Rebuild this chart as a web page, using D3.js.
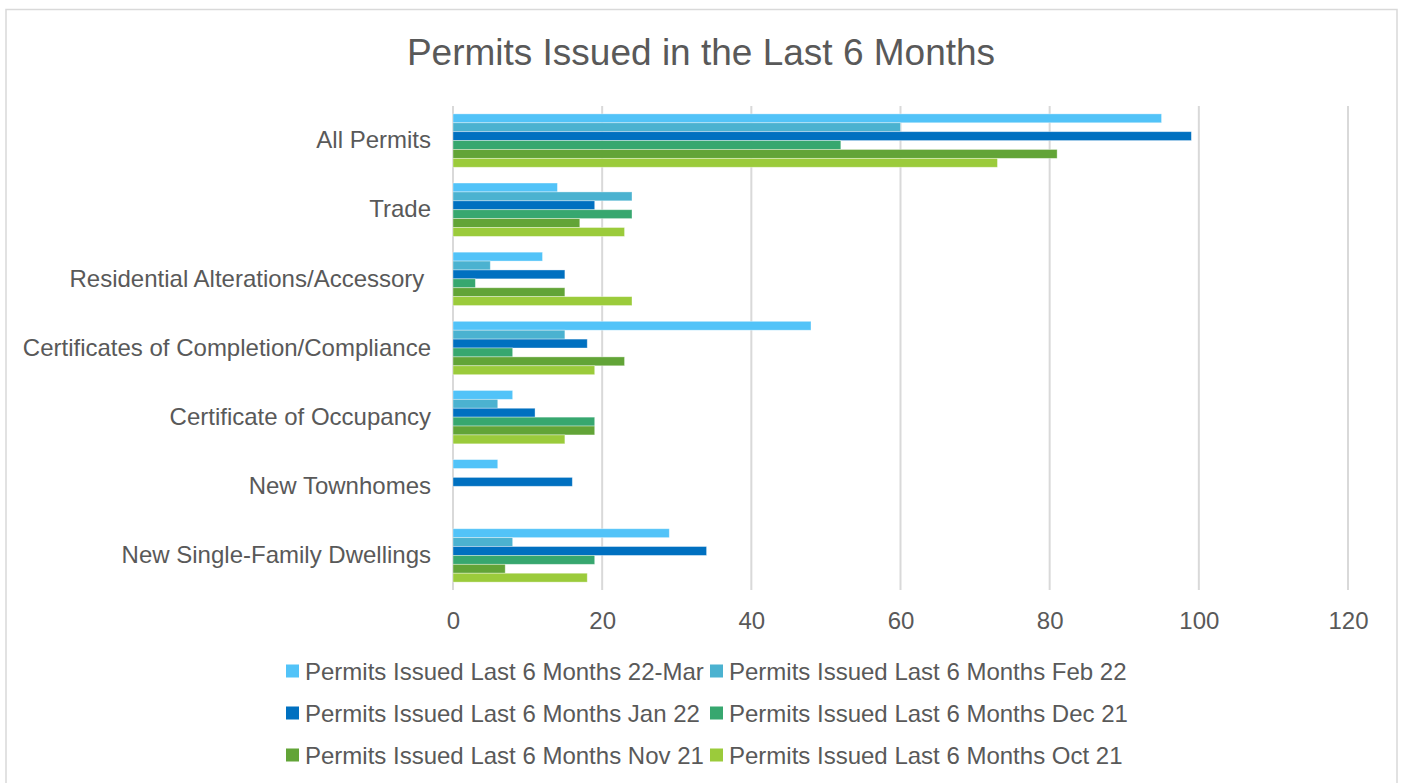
<!DOCTYPE html>
<html><head><meta charset="utf-8">
<script src="https://cdn.jsdelivr.net/npm/d3@7"></script>
<style>
html,body{margin:0;padding:0;background:#fff;}
text{font-family:"Liberation Sans",Arial,sans-serif;fill:#595959;}
</style></head>
<body>
<svg id="chart" width="1401" height="783"></svg>
<script>
const categories = ["All Permits","Trade","Residential Alterations/Accessory ","Certificates of Completion/Compliance","Certificate of Occupancy","New Townhomes","New Single-Family Dwellings"];
const seriesNames = ["Permits Issued Last 6 Months 22-Mar","Permits Issued Last 6 Months Feb 22","Permits Issued Last 6 Months Jan 22","Permits Issued Last 6 Months Dec 21","Permits Issued Last 6 Months Nov 21","Permits Issued Last 6 Months Oct 21"];
const mar22 = [95,14,12,48,8,6,29];
const feb22 = [60,24,5,15,6,0,8];
const jan22 = [99,19,15,18,11,16,34];
const dec21 = [52,24,3,8,19,0,19];
const nov21 = [81,17,15,23,19,0,7];
const oct21 = [73,23,24,19,15,0,18];
const seriesValues = [mar22,feb22,jan22,dec21,nov21,oct21];
const colors = ["#52C3F8","#4BB2D0","#0070C0","#37A76F","#62A437","#9BCB3B"];
const xTicks = [0,20,40,60,80,100,120];

const svg = d3.select("#chart");
// chart border
svg.append("rect").attr("x",6).attr("y",9.5).attr("width",1391).attr("height",800)
  .attr("fill","none").attr("stroke","#D9D9D9").attr("stroke-width",1.5);

// title
svg.append("text").attr("x",701).attr("y",65).attr("text-anchor","middle")
  .style("font-size","37px").text("Permits Issued in the Last 6 Months");

const x = d3.scaleLinear().domain([0,120]).range([453,1348]);
const y = d3.scaleBand().domain(categories).range([106,590]).paddingInner(0.228).paddingOuter(0.114);
const ySub = d3.scaleBand().domain(d3.range(seriesNames.length)).range([0,y.bandwidth()]);

// gridlines
svg.append("g").selectAll("line").data(xTicks).join("line")
  .attr("x1",d=>x(d)).attr("x2",d=>x(d)).attr("y1",106).attr("y2",590)
  .attr("stroke","#D9D9D9").attr("stroke-width",2);

// x tick labels via axis
const xAxis = svg.append("g").attr("transform","translate(0,590)")
  .call(d3.axisBottom(x).tickValues(xTicks).tickSize(0).tickPadding(22));
xAxis.select(".domain").remove();
xAxis.selectAll("text").style("font-size","24px").style("font-family","Liberation Sans, Arial, sans-serif").attr("fill","#595959");

// y labels via axis
const yAxis = svg.append("g").attr("transform","translate(453,0)")
  .call(d3.axisLeft(y).tickSize(0).tickPadding(22));
yAxis.select(".domain").remove();
yAxis.selectAll("text").style("font-size","24px").style("white-space","pre").style("font-family","Liberation Sans, Arial, sans-serif").attr("fill","#595959");

// bars
const groups = svg.append("g").selectAll("g").data(categories).join("g")
  .attr("transform",c=>`translate(0,${y(c)})`);
groups.selectAll("rect").data((c,i)=>seriesValues.map((vals,s)=>({s,v:vals[i]}))).join("rect")
  .filter(d=>d.v>0)
  .attr("x",x(0)).attr("y",d=>ySub(d.s)).attr("width",d=>x(d.v)-x(0)).attr("height",ySub.bandwidth())
  .attr("fill",d=>colors[d.s]).attr("stroke","rgba(255,255,255,0.45)").attr("stroke-width",0.8);

// legend
const legendPos = [[286,671],[710,671],[286,713],[710,713],[286,755],[710,755]];
const leg = svg.append("g").selectAll("g").data(seriesNames).join("g")
  .attr("transform",(d,i)=>`translate(${legendPos[i][0]},${legendPos[i][1]})`);
leg.append("rect").attr("x",0).attr("y",-6.5).attr("width",13).attr("height",13).attr("fill",(d,i)=>colors[i]);
leg.append("text").attr("x",19).attr("y",8.5).style("font-size","24px").text(d=>d);
</script>
</body></html>
